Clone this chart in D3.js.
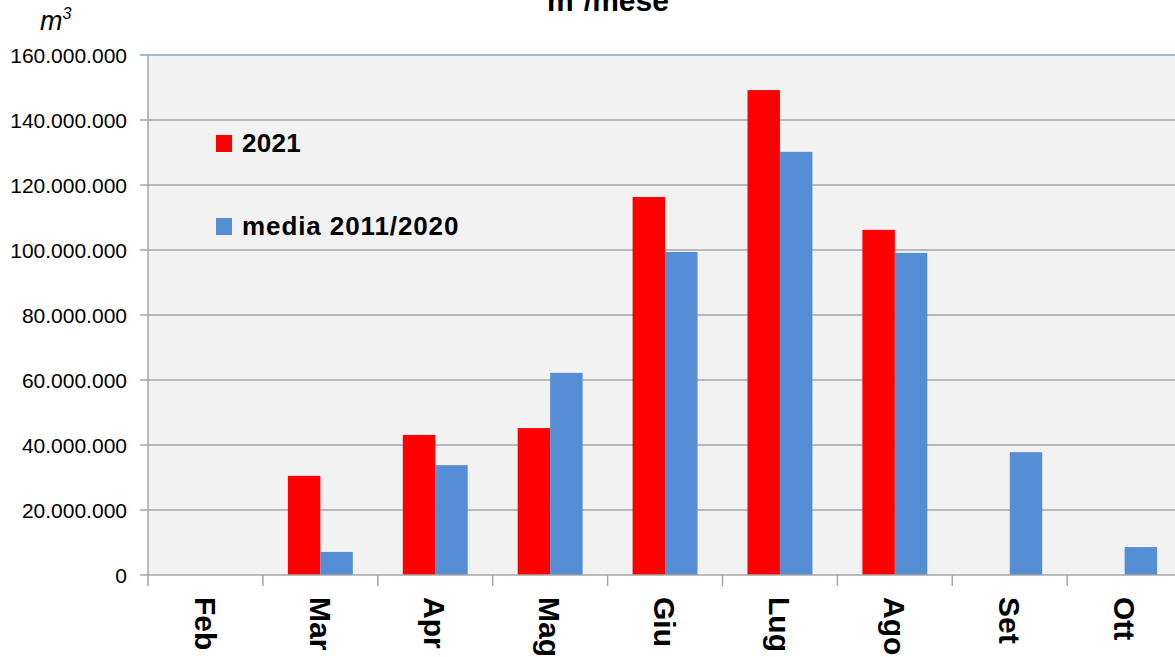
<!DOCTYPE html>
<html>
<head>
<meta charset="utf-8">
<script src="https://cdn.jsdelivr.net/npm/d3@7"></script>
<style>
  html, body { margin: 0; padding: 0; background: #fff; }
  svg { display: block; font-family: 'Liberation Sans', Arial, sans-serif; }
</style>
</head>
<body>
<div id="chart"></div>
<script>
const months = ['Feb', 'Mar', 'Apr', 'Mag', 'Giu', 'Lug', 'Ago', 'Set', 'Ott'];
const series = ['2021', 'media 2011/2020'];
const values2021 = [0, 30500000, 43100000, 45200000, 116300000, 149200000, 106200000, 0, 0];
const valuesMedia = [0, 7100000, 33800000, 62200000, 99400000, 130200000, 99100000, 37800000, 8600000];
const yTicks = [0, 20000000, 40000000, 60000000, 80000000, 100000000, 120000000, 140000000, 160000000];
const colors = ['#ff0000', '#558ed5'];

const width = 1175;
const height = 657;
const plotLeft = 148;
const plotTop = 55;
const plotBottom = 575;
const bandW = 114.9;

const fmt = d3.formatLocale({ decimal: ',', thousands: '.', grouping: [3], currency: ['', '€'] }).format(',');

const svg = d3.select('#chart')
  .append('svg')
  .attr('width', width)
  .attr('height', height);

const x0 = d3.scaleBand()
  .domain(months)
  .range([plotLeft, plotLeft + bandW * months.length]);

const x1 = d3.scaleBand()
  .domain(series)
  .range([0, x0.bandwidth()])
  .paddingOuter(0.77);

const y = d3.scaleLinear()
  .domain([0, 160000000])
  .range([plotBottom, plotTop]);

// plot background
svg.append('rect')
  .attr('x', plotLeft)
  .attr('y', plotTop)
  .attr('width', width - plotLeft)
  .attr('height', plotBottom - plotTop)
  .attr('fill', '#f2f2f2');

// gridlines
svg.append('g')
  .selectAll('line')
  .data(yTicks.filter(d => d > 0))
  .enter()
  .append('line')
  .attr('x1', plotLeft - 8)
  .attr('x2', width)
  .attr('y1', d => y(d))
  .attr('y2', d => y(d))
  .attr('stroke', d => d === 160000000 ? '#8aa4cc' : '#a6a6a6')
  .attr('stroke-width', 1.5);

// y tick labels
svg.append('g')
  .selectAll('text')
  .data(yTicks)
  .enter()
  .append('text')
  .attr('x', 127)
  .attr('y', d => y(d))
  .attr('dy', '0.36em')
  .attr('text-anchor', 'end')
  .attr('font-size', 21)
  .attr('fill', '#000')
  .text(d => fmt(d));

// bars
const groups = svg.append('g')
  .selectAll('g')
  .data(months.map((m, i) => ({ month: m, vals: [values2021[i], valuesMedia[i]] })))
  .enter()
  .append('g')
  .attr('transform', d => `translate(${x0(d.month)},0)`);

groups.selectAll('rect')
  .data(d => d.vals.map((v, j) => ({ key: series[j], value: v, j })))
  .enter()
  .append('rect')
  .attr('x', d => x1(d.key))
  .attr('y', d => y(d.value))
  .attr('width', x1.bandwidth())
  .attr('height', d => plotBottom - y(d.value))
  .attr('fill', d => colors[d.j]);

// axes lines
svg.append('line')
  .attr('x1', plotLeft - 8).attr('x2', width)
  .attr('y1', plotBottom).attr('y2', plotBottom)
  .attr('stroke', '#a6a6a6').attr('stroke-width', 1.5);

svg.append('line')
  .attr('x1', plotLeft).attr('x2', plotLeft)
  .attr('y1', plotTop).attr('y2', plotBottom + 11)
  .attr('stroke', '#a6a6a6').attr('stroke-width', 1.5);

svg.append('g')
  .selectAll('line')
  .data(months.slice(1))
  .enter()
  .append('line')
  .attr('x1', d => x0(d))
  .attr('x2', d => x0(d))
  .attr('y1', plotBottom)
  .attr('y2', plotBottom + 11)
  .attr('stroke', '#a6a6a6')
  .attr('stroke-width', 1.5);

// category labels
svg.append('g')
  .selectAll('text')
  .data(months)
  .enter()
  .append('text')
  .attr('transform', d => `translate(${x0(d) + x0.bandwidth() / 2},597) rotate(90)`)
  .attr('dy', '0.36em')
  .attr('font-size', 30)
  .attr('font-weight', 'bold')
  .attr('fill', '#000')
  .text(d => d);

// legend
const legend = svg.append('g')
  .selectAll('g')
  .data(series)
  .enter()
  .append('g')
  .attr('transform', (d, i) => `translate(216,${135 + i * 83})`);

legend.append('rect')
  .attr('width', 16)
  .attr('height', 17)
  .attr('fill', (d, i) => colors[i]);

legend.append('text')
  .attr('x', 26)
  .attr('y', 17)
  .attr('font-size', 26)
  .attr('font-weight', 'bold')
  .attr('letter-spacing', (d, i) => i === 1 ? 0.9 : 0.3)
  .attr('fill', '#000')
  .text(d => d);

// title (cut off at top)
const title = svg.append('text')
  .attr('x', 608)
  .attr('y', 11)
  .attr('text-anchor', 'middle')
  .attr('font-size', 30)
  .attr('font-weight', 'bold')
  .attr('fill', '#000');
title.append('tspan').text('m');
title.append('tspan').attr('font-size', 18).attr('dy', -12).text('3');
title.append('tspan').attr('dy', 12).text('/mese');

// y unit label
const unit = svg.append('text')
  .attr('x', 40)
  .attr('y', 30)
  .attr('font-size', 27)
  .attr('font-style', 'italic')
  .attr('fill', '#000');
unit.append('tspan').text('m');
unit.append('tspan').attr('font-size', 16).attr('dy', -11).text('3');
</script>
</body>
</html>
